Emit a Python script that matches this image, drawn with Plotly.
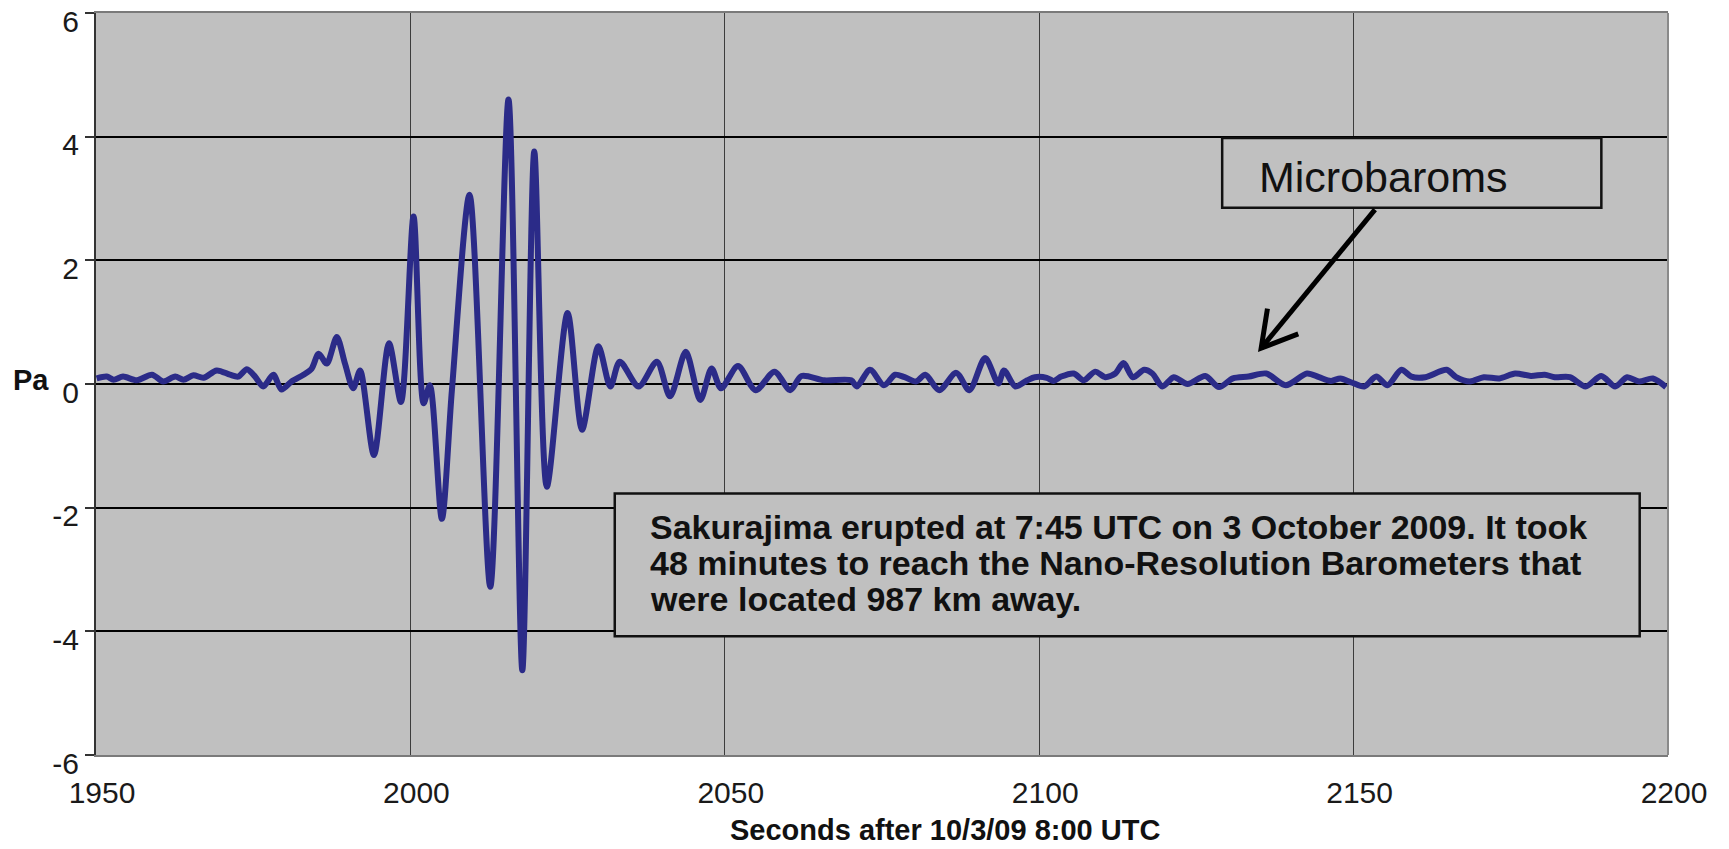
import plotly.graph_objects as go

# ---- data ----
seconds = [
    1950.1, 1951.7, 1952.8, 1954.3, 1956.5, 1958.9, 1960.7, 1962.6, 1963.9, 1965.5,
    1967.1, 1969.2, 1971.3, 1972.6, 1974.0, 1975.3, 1976.6, 1978.2, 1979.5, 1981.1,
    1983.0, 1984.3, 1985.4, 1986.7, 1988.3, 1989.6, 1990.9, 1992.0, 1994.2, 1996.6,
    1998.5, 2000.5, 2002.1, 2003.1, 2005.0, 2006.6, 2009.4, 2012.7, 2015.6, 2017.8,
    2019.7, 2021.7, 2025.0, 2027.3, 2029.9, 2031.8, 2033.3, 2036.3, 2039.2, 2041.3,
    2043.8, 2046.1, 2047.9, 2049.4, 2052.1, 2054.9, 2057.9, 2060.4, 2062.2, 2065.8,
    2070.1, 2071.0, 2073.1, 2075.3, 2077.1, 2078.6, 2080.4, 2081.9, 2084.1, 2086.8,
    2088.9, 2091.4, 2093.5, 2094.4, 2096.2, 2098.1, 2099.3, 2101.2, 2102.3, 2103.5,
    2105.5, 2107.1, 2108.9, 2110.5, 2112.1, 2113.4, 2114.9, 2116.7, 2118.0, 2119.6,
    2121.4, 2123.6, 2126.4, 2128.6, 2130.8, 2133.3, 2136.1, 2139.2, 2142.6, 2144.5,
    2146.4, 2147.9, 2149.8, 2151.7, 2153.6, 2155.4, 2157.6, 2159.2, 2161.4, 2164.8,
    2166.3, 2168.5, 2170.7, 2173.2, 2175.7, 2178.2, 2180.4, 2182.0, 2184.4, 2186.9,
    2189.4, 2191.6, 2193.5, 2195.4, 2197.6, 2199.7,
]
pressure_pa = [
    0.09, 0.12, 0.07, 0.12, 0.06, 0.15, 0.04, 0.12, 0.07, 0.14,
    0.10, 0.22, 0.15, 0.12, 0.24, 0.12, -0.04, 0.15, -0.09, 0.04,
    0.15, 0.25, 0.49, 0.33, 0.76, 0.33, -0.07, 0.22, -1.15, 0.66,
    -0.29, 2.71, -0.31, -0.02, -2.18, -0.10, 3.06, -3.28, 4.60, -4.63,
    3.76, -1.66, 1.15, -0.74, 0.61, -0.04, 0.36, -0.04, 0.36, -0.20,
    0.52, -0.26, 0.25, -0.07, 0.29, -0.10, 0.20, -0.10, 0.13, 0.06,
    0.06, -0.04, 0.23, -0.02, 0.15, 0.11, 0.04, 0.15, -0.10, 0.18,
    -0.10, 0.42, 0.01, 0.22, -0.04, 0.06, 0.11, 0.10, 0.05, 0.12,
    0.17, 0.06, 0.20, 0.11, 0.17, 0.34, 0.11, 0.23, 0.17, -0.04,
    0.11, 0.00, 0.13, -0.05, 0.09, 0.12, 0.17, -0.02, 0.17, 0.11,
    0.05, 0.09, 0.02, -0.04, 0.12, -0.02, 0.23, 0.12, 0.11, 0.23,
    0.11, 0.04, 0.11, 0.09, 0.17, 0.13, 0.15, 0.11, 0.11, -0.04,
    0.13, -0.04, 0.11, 0.04, 0.09, -0.05,
]
x_ticks = [1950, 2000, 2050, 2100, 2150, 2200]
y_ticks = [-6, -4, -2, 0, 2, 4, 6]
x_title = "Seconds after 10/3/09 8:00 UTC"
y_title = "Pa"
note_lines = [
    "Sakurajima erupted at 7:45 UTC on 3 October 2009. It took",
    "48 minutes to reach the Nano-Resolution Barometers that",
    "were located 987 km away.",
]
callout_text = "Microbaroms"

FONT = "Liberation Sans, Arial, sans-serif"
LINE_COLOR = "#2B2B88"
BG = "#C0C0C0"

fig = go.Figure()
fig.add_trace(go.Scatter(
    x=seconds, y=pressure_pa, mode="lines",
    line=dict(color=LINE_COLOR, width=6, shape="spline", smoothing=0.8),
    hoverinfo="skip", showlegend=False,
))

fig.update_layout(
    width=1729, height=849,
    margin=dict(l=96, r=61, t=13, b=94, autoexpand=False),
    paper_bgcolor="white", plot_bgcolor=BG,
    font=dict(family=FONT, color="#1a1a1a"),
    showlegend=False,
    xaxis=dict(
        range=[1950, 2200], tickvals=x_ticks, ticktext=[str(v) for v in x_ticks],
        showgrid=True, gridcolor="#3c3c3c", gridwidth=1,
        showline=True, linecolor="#7a7a7a", linewidth=2, mirror=True,
        ticks="", zeroline=False, automargin=False,
        tickfont=dict(size=30, color="#1a1a1a", family=FONT),
        ticklabelshift=6, ticklabelstandoff=10,
    ),
    yaxis=dict(
        range=[-6, 6], tickvals=y_ticks, ticktext=[str(v) for v in y_ticks],
        showgrid=True, gridcolor="#000000", gridwidth=1.5,
        showline=True, linecolor="#333333", linewidth=2,
        ticks="outside", ticklen=9, tickcolor="#333333", tickwidth=1.5,
        zeroline=False, automargin=False,
        tickfont=dict(size=30, color="#1a1a1a", family=FONT),
        ticklabeloverflow="allow", ticklabelshift=8,
    ),
)

# right border of the plot area
fig.add_shape(type="line", xref="paper", yref="paper", x0=1, x1=1, y0=0, y1=1,
              line=dict(color="#8a8a8a", width=2))

# text box (opaque, hides gridlines)
fig.add_shape(type="rect", xref="x", yref="y", x0=2032.5, x1=2195.5, y0=-4.08, y1=-1.77,
              fillcolor=BG, line=dict(color="#111111", width=2.5), layer="above")
for line_text, y_pos in zip(note_lines, [-2.32, -2.89, -3.48]):
    fig.add_annotation(xref="x", yref="y", x=2037.8, y=y_pos, xanchor="left", yanchor="middle",
                       text="<b>" + line_text + "</b>", align="left", showarrow=False,
                       font=dict(size=34, family=FONT, color="#111111"))

# Microbaroms callout box
fig.add_shape(type="rect", xref="x", yref="y", x0=2129.1, x1=2189.4, y0=2.85, y1=3.98,
              fillcolor=BG, line=dict(color="#111111", width=2.5), layer="above")
fig.add_annotation(xref="x", yref="y", x=2134.6, y=3.34, xanchor="left", yanchor="middle",
                   text=callout_text, showarrow=False,
                   font=dict(size=43, family=FONT, color="#111111"))

# arrow: shaft and open chevron head
fig.add_shape(type="path", xref="x", yref="y",
              path="M 2153.4 2.82 L 2135.3 0.58",
              line=dict(color="#000000", width=5), layer="above")
fig.add_shape(type="path", xref="x", yref="y",
              path="M 2136.3 1.22 L 2135.3 0.58 L 2141.2 0.81",
              line=dict(color="#000000", width=5), layer="above")

# axis titles
fig.add_annotation(xref="paper", yref="y", x=-0.0413, y=0.07, xanchor="center", yanchor="middle",
                   text="<b>" + y_title + "</b>", showarrow=False,
                   font=dict(size=29, family=FONT, color="#111111"))
fig.add_annotation(xref="paper", yref="paper", x=0.540, y=0, xanchor="center", yanchor="middle",
                   yshift=-75, text="<b>" + x_title + "</b>", showarrow=False,
                   font=dict(size=29, family=FONT, color="#111111"))

fig.write_html("out.html")
